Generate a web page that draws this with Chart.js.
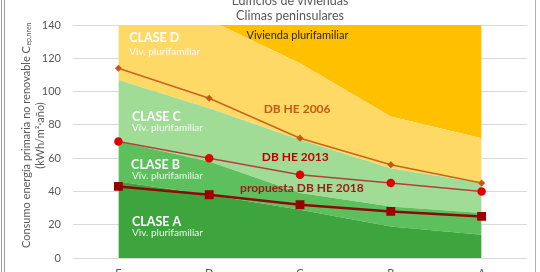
<!DOCTYPE html>
<html>
<head>
<meta charset="utf-8">
<script src="https://cdn.jsdelivr.net/npm/chart.js@4/dist/chart.umd.min.js"></script>
<style>
	body { margin: 0; background: #fff; overflow: hidden; }
	#wrap { position: relative; width: 540px; height: 272px; overflow: hidden; }
	#frameL { position: absolute; left: 1px; top: 0; width: 2px; height: 272px; border-left: 1px solid #9a9a9a; border-right: 1px solid #9a9a9a; }
	#frameR { position: absolute; left: 535px; top: 0; width: 1px; height: 272px; background: #b0b0b0; }
	canvas { position: absolute; left: 0; top: 0; }
</style>
</head>
<body>
<div id="wrap">
	<canvas id="actualChart" width="540" height="290"></canvas>
	<div id="frameL"></div>
	<div id="frameR"></div>
</div>
<script>
	// categorias (letras de calificacion)
	var cats = ['E', 'D', 'C', 'B', 'A'];

	// limites superiores de cada clase (kWh/m2.año)
	var claseA = [46, 38, 29, 19, 14];
	var claseB = [70, 58, 39, 31, 27];
	var claseC = [107, 90, 71, 54, 45];
	var claseD = [168, 143, 117, 85, 72];
	var techo = [140, 140, 140, 140, 140];

	// exigencias normativas
	var dbhe2006 = [114, 96, 72, 56, 45];
	var dbhe2013 = [70, 60, 50, 45, 40];
	var dbhe2018 = [43, 38, 32, 28, 25];

	var yTicks = [0, 20, 40, 60, 80, 100, 120, 140];

	var fontFam = 'Lato, "Open Sans", sans-serif';

	function area(lbl, vals, color, fill){
		return {
			label: lbl, data: vals, backgroundColor: color, borderWidth: 0,
			pointRadius: 0, fill: fill, tension: 0, order: 2
		};
	}

	function linea(lbl, vals, color, ptColor, width, style, radius){
		return {
			label: lbl, data: vals, borderColor: color, borderWidth: width,
			pointStyle: style, pointRadius: radius, pointBackgroundColor: ptColor,
			pointBorderColor: ptColor, fill: false, tension: 0, order: 0
		};
	}

	// textos sobre el grafico (indice de categoria, valor)
	var textos = [
		['CLASE D', 0.12, 132, 'bold 12.5px ' + fontFam, '#ffffff'],
		['Viv. plurifamiliar', 0.12, 124, '10px ' + fontFam, 'rgba(255,255,255,0.9)'],
		['CLASE C', 0.15, 85, 'bold 12.5px ' + fontFam, '#ffffff'],
		['Viv. plurifamiliar', 0.15, 78.5, '10px ' + fontFam, 'rgba(255,255,255,0.9)'],
		['CLASE B', 0.14, 56, 'bold 12.5px ' + fontFam, '#ffffff'],
		['Viv. plurifamiliar', 0.15, 49.5, '10px ' + fontFam, 'rgba(255,255,255,0.9)'],
		['CLASE A', 0.15, 21.5, 'bold 12.5px ' + fontFam, '#ffffff'],
		['Viv. plurifamiliar', 0.15, 15, '10px ' + fontFam, 'rgba(255,255,255,0.9)'],
		['Vivienda plurifamiliar', 1.41, 133.5, '11px ' + fontFam, '#262626'],
		['DB HE 2006', 1.6, 89.5, 'bold 12px ' + fontFam, '#c55a11'],
		['DB HE 2013', 1.58, 60.5, 'bold 12px ' + fontFam, '#c00000'],
		['propuesta DB HE 2018', 1.34, 42, 'bold 12px ' + fontFam, '#9a1a1a']
	];

	var extras = {
		id: 'extras',
		afterDatasetsDraw: function(chart){
			var ctx = chart.ctx, sx = chart.scales.x, sy = chart.scales.y;
			ctx.save();
			ctx.textBaseline = 'middle';
			ctx.textAlign = 'left';
			textos.forEach(function(t){
				ctx.font = t[3];
				ctx.fillStyle = t[4];
				ctx.fillText(t[0], sx.getPixelForValue(t[1]), sy.getPixelForValue(t[2]));
			});
			ctx.restore();
		},
		afterDraw: function(chart){
			var ctx = chart.ctx;
			ctx.save();
			// titulo
			ctx.fillStyle = '#595959';
			ctx.font = '12.5px ' + fontFam;
			ctx.textAlign = 'center';
			ctx.textBaseline = 'middle';
			ctx.fillText('Edificios de viviendas', 290, 1);
			ctx.fillText('Climas peninsulares', 290, 16);

			// titulo eje y con subindice
			var cy = (chart.chartArea.top + chart.chartArea.bottom) / 2 - 6;
			ctx.translate(26, cy);
			ctx.rotate(-Math.PI / 2);
			ctx.font = '11px ' + fontFam;
			var t1 = 'Consumo energía primaria no renovable C';
			var sub = 'ep,nren';
			var w1 = ctx.measureText(t1).width;
			ctx.font = '7px ' + fontFam;
			var w2 = ctx.measureText(sub).width;
			var x0 = -(w1 + w2) / 2;
			ctx.textAlign = 'left';
			ctx.font = '11px ' + fontFam;
			ctx.fillText(t1, x0, 0);
			ctx.font = '7px ' + fontFam;
			ctx.fillText(sub, x0 + w1 + 0.5, 3);
			ctx.font = '11px ' + fontFam;
			ctx.textAlign = 'center';
			ctx.fillText('(kWh/m²·año)', 0, 14);
			ctx.restore();
		}
	};

	var data = {
		labels: cats,
		datasets: [
			area('Clase A', claseA, '#3ea53e', 'origin'),
			area('Clase B', claseB, '#5dc05d', '-1'),
			area('Clase C', claseC, '#a0dc96', '-1'),
			area('Clase D', claseD, '#ffd966', '-1'),
			area('Clase E+', techo, '#ffc000', '-1'),
			linea('DB HE 2006', dbhe2006, '#c8641e', '#c55a11', 1.5, 'rectRot', 2.5),
			linea('DB HE 2013', dbhe2013, '#b5403a', '#e00000', 1.5, 'circle', 3.5),
			linea('propuesta DB HE 2018', dbhe2018, '#8b0a0a', '#9a0000', 2.5, 'rect', 4.5)
		]
	};

	var options = {
		responsive: false,
		animation: false,
		devicePixelRatio: 1,
		layout: { padding: { top: 25, right: 13, left: 0, bottom: 0 } },
		plugins: {
			legend: { display: false },
			title: { display: false },
			tooltip: { enabled: false }
		},
		scales: {
			x: {
				offset: true,
				grid: { display: false, drawTicks: false },
				border: { display: false },
				ticks: { color: '#595959', font: { family: fontFam, size: 11 }, padding: 9 },
				afterFit: function(s){ s.height = 32; }
			},
			y: {
				min: 0, max: 140,
				afterBuildTicks: function(s){ s.ticks = yTicks.map(function(v){ return {value: v}; }); },
				grid: { color: '#d9d9d9', drawTicks: false },
				border: { display: false },
				ticks: { color: '#595959', font: { family: fontFam, size: 11 }, padding: 12 },
				afterFit: function(s){ s.width = 73; }
			}
		}
	};

	new Chart(document.getElementById('actualChart'), {
		type: 'line',
		data: data,
		options: options,
		plugins: [extras]
	});
</script>
</body>
</html>
